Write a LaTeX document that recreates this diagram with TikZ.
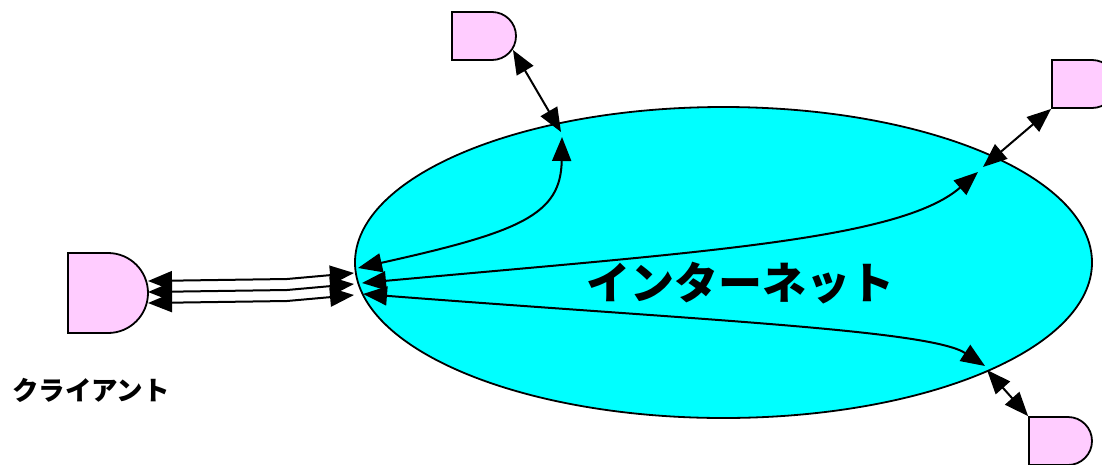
\documentclass[tikz,border=0pt]{standalone}
\usepackage{fontspec}
\newfontfamily\cjk{Noto Sans CJK JP}
\usetikzlibrary{shapes.geometric,shapes.misc,arrows.meta}
\definecolor{srvpink}{RGB}{255,204,255}
\definecolor{netcyan}{RGB}{0,255,255}
\begin{document}
\begin{tikzpicture}[x=1pt,y=-1pt,
  server/.style={rounded rectangle, rounded rectangle left arc=none, draw, line width=1.8pt, fill=srvpink, inner sep=0pt},
  conn/.style={line width=2pt, {Triangle[length=24pt,width=19pt]}-{Triangle[length=24pt,width=19pt]}},
  lbl/.style={font=\cjk\bfseries, inner sep=0pt}]
\useasboundingbox (0,0) rectangle (1102,464);
\clip (0,0) rectangle (1102,464);
% internet cloud
\node[ellipse, draw, line width=1.8pt, fill=netcyan, minimum width=737pt, minimum height=311pt, inner sep=0pt] (net) at (723.5,262.5) {};
% servers
\node[server, minimum width=80pt, minimum height=80pt] (client) at (108,293) {};
\node[server, minimum width=64pt, minimum height=48pt] (s1) at (484,36) {};
\node[server, minimum width=64pt, minimum height=48pt] (s2) at (1084,84) {};
\node[server, minimum width=63pt, minimum height=48pt] (s3) at (1060.5,441) {};
% coordinates
\coordinate (cL1) at (148,281); \coordinate (cR1) at (354,273);
\coordinate (cL2) at (148,292); \coordinate (cR2) at (354,284);
\coordinate (cL3) at (148,303); \coordinate (cR3) at (354,295);
\coordinate (i1) at (358,268); \coordinate (i2) at (362,283); \coordinate (i3) at (363,294);
\coordinate (e1) at (562,137); \coordinate (e2) at (978,172); \coordinate (e3) at (985,366);
\coordinate (b1) at (561,132); \coordinate (b2) at (983,167); \coordinate (b3) at (987,370);
\coordinate (t1) at (513,50);
% client links
\draw[conn] (cL1) -- (287,279) -- (cR1);
\draw[conn] (cL2) -- (287,290) -- (cR2);
\draw[conn] (cL3) -- (287,301) -- (cR3);
% inner curves
\draw[conn] (i1) .. controls (520,232) and (561,215) .. (e1);
\draw[conn] (i2) .. controls (700,252) and (900,240) .. (e2);
\draw[conn] (i3) .. controls (700,320) and (930,330) .. (e3);
% server links
\draw[conn] (t1) -- (b1);
\draw[conn] (s2.south west) -- (b2);
\draw[conn] (b3) -- (s3.north west);
% labels
\node[lbl, font=\cjk\bfseries\fontsize{44}{50}\selectfont] (nettext) at (740,283) {インターネット};
\node[lbl, font=\cjk\bfseries\fontsize{26.5}{30}\selectfont] (clienttext) at (91,390) {クライアント};
\end{tikzpicture}
\end{document}
